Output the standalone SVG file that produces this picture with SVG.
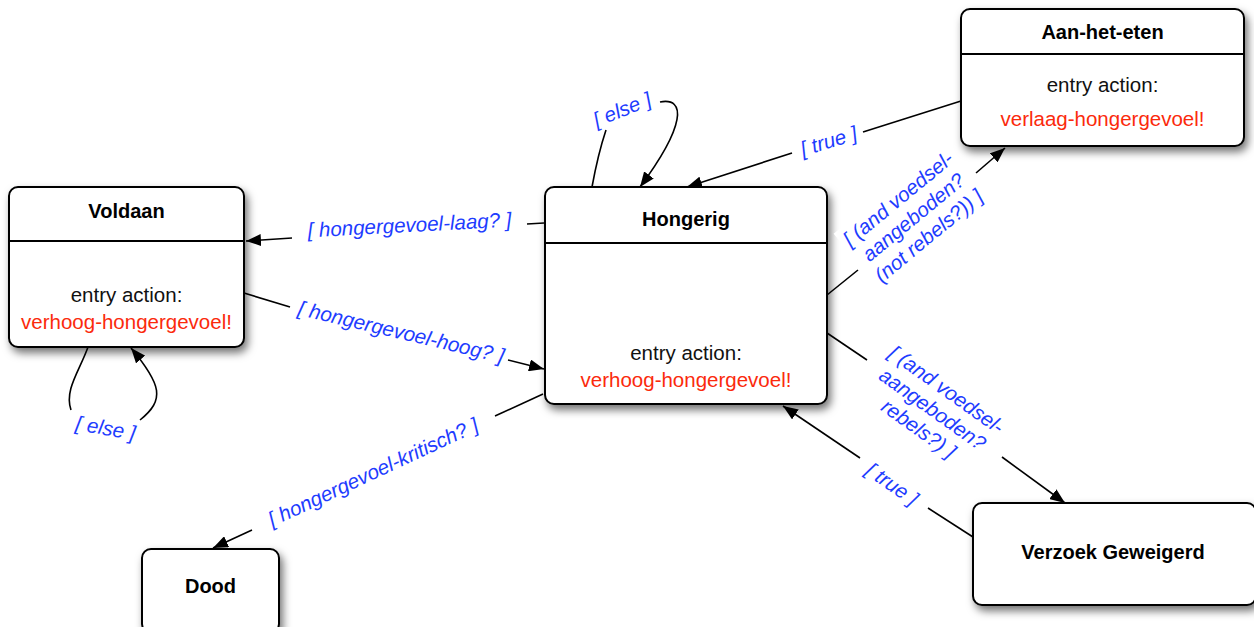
<svg xmlns="http://www.w3.org/2000/svg" width="1254" height="627" viewBox="0 0 1254 627">
<defs>
<filter id="sh" x="-20%" y="-20%" width="140%" height="150%">
<feDropShadow dx="3" dy="5" stdDeviation="4" flood-color="#000" flood-opacity="0.55"/>
</filter>
<marker id="arr" markerUnits="userSpaceOnUse" markerWidth="16" markerHeight="12" refX="15" refY="6" orient="auto">
<path d="M0,0 L15,6 L0,12 z" fill="#000"/>
</marker>
<style>
.box{fill:#fff;stroke:#000;stroke-width:2;filter:url(#sh)}
.div{stroke:#000;stroke-width:2}
.title{font-family:"Liberation Sans",Arial,sans-serif;font-weight:bold;font-size:20px;fill:#000;text-anchor:middle}
.entry{font-family:"Liberation Sans",Arial,sans-serif;font-size:20.5px;fill:#111;text-anchor:middle}
.act{font-family:"Liberation Sans",Arial,sans-serif;font-size:20.5px;fill:#fb2a0c;text-anchor:middle}
.lbl{font-family:"Liberation Sans",Arial,sans-serif;font-style:italic;font-size:20.5px;fill:#1e3cff;text-anchor:middle}
.ln{fill:none;stroke:#000;stroke-width:1.6}
</style>
</defs>
<rect width="1254" height="627" fill="#fff"/>

<g id="voldaan">
<rect class="box" x="9" y="187" width="235" height="160" rx="9"/>
<line class="div" x1="9" y1="241" x2="244" y2="241"/>
<text class="title" x="126.5" y="218">Voldaan</text>
<text class="entry" x="126.5" y="302">entry action:</text>
<text class="act" x="126.5" y="329">verhoog-hongergevoel!</text>
</g>

<g id="hongerig">
<rect class="box" x="545" y="187" width="282" height="217" rx="9"/>
<line class="div" x1="545" y1="243" x2="827" y2="243"/>
<text class="title" x="686" y="226">Hongerig</text>
<text class="entry" x="686" y="360">entry action:</text>
<text class="act" x="686" y="387">verhoog-hongergevoel!</text>
</g>

<g id="aan-het-eten">
<rect class="box" x="961" y="9" width="283" height="137" rx="9"/>
<line class="div" x1="961" y1="54" x2="1244" y2="54"/>
<text class="title" x="1102.5" y="39">Aan-het-eten</text>
<text class="entry" x="1102.5" y="92">entry action:</text>
<text class="act" x="1102.5" y="126">verlaag-hongergevoel!</text>
</g>

<g id="dood">
<rect class="box" x="142" y="549" width="137" height="84" rx="9"/>
<text class="title" x="210.5" y="593">Dood</text>
</g>

<g id="verzoek-geweigerd">
<rect class="box" x="973" y="503" width="283" height="102" rx="9"/>
<text class="title" x="1113" y="559">Verzoek Geweigerd</text>
</g>

<g id="connectors">
<!-- Hongerig -> Voldaan -->
<path class="ln" d="M544 223 L527 224"/>
<path class="ln" d="M292 238 L246 241" marker-end="url(#arr)"/>
<text class="lbl" transform="translate(409.5,226) rotate(-3)" y="6">[ hongergevoel-laag? ]</text>

<!-- Voldaan -> Hongerig -->
<path class="ln" d="M244 293 L290 307"/>
<path class="ln" d="M508 360 L544 369" marker-end="url(#arr)"/>
<text class="lbl" transform="translate(401,333) rotate(13.3)" y="6">[ hongergevoel-hoog? ]</text>

<!-- Hongerig -> Dood -->
<path class="ln" d="M543 394 L495 416"/>
<path class="ln" d="M252 530 L213 548" marker-end="url(#arr)"/>
<text class="lbl" transform="translate(373.5,473) rotate(-25)" y="6">[ hongergevoel-kritisch? ]</text>

<!-- Voldaan self loop -->
<path class="ln" d="M88 347 C80 370 64 390 71 410"/>
<path class="ln" d="M140 420 C165 400 162 385 131 348" marker-end="url(#arr)"/>
<text class="lbl" transform="translate(105.5,429) rotate(10)" y="6">[ else ]</text>

<!-- Hongerig self loop -->
<path class="ln" d="M592 187 C596 165 601 145 606 130"/>
<path class="ln" d="M660 102 C686 97 686 125 640 187" marker-end="url(#arr)"/>
<text class="lbl" transform="translate(622.5,110.5) rotate(-22)" y="6">[ else ]</text>

<!-- Aan-het-eten -> Hongerig -->
<path class="ln" d="M961 101 L863 132"/>
<path class="ln" d="M792 153 L687 187" marker-end="url(#arr)"/>
<text class="lbl" transform="translate(829,142) rotate(-17)" y="6">[ true ]</text>

<!-- Hongerig -> Aan-het-eten -->
<path class="ln" d="M827 295 L858 270"/>
<path class="ln" d="M976 173 L1005 148" marker-end="url(#arr)"/>
<g transform="translate(914,218) rotate(-39.5)">
<rect x="-72" y="-39" width="144" height="78" fill="#fff"/>
<text class="lbl" y="-18">[ (and voedsel-</text>
<text class="lbl" y="6">aangeboden?</text>
<text class="lbl" y="30">(not rebels?)) ]</text>
</g>

<!-- Hongerig -> Verzoek Geweigerd -->
<path class="ln" d="M827 333 L867 360"/>
<path class="ln" d="M1002 457 L1065 503" marker-end="url(#arr)"/>
<g transform="translate(932,410) rotate(35.5)">
<text class="lbl" y="-18">[ (and voedsel-</text>
<text class="lbl" y="6">aangeboden?</text>
<text class="lbl" y="30">rebels?) ]</text>
</g>

<!-- Verzoek Geweigerd -> Hongerig -->
<path class="ln" d="M973 537 L928 508"/>
<path class="ln" d="M860 458 L783 406" marker-end="url(#arr)"/>
<text class="lbl" transform="translate(891.5,485) rotate(35)" y="6">[ true ]</text>
</g>
</svg>
